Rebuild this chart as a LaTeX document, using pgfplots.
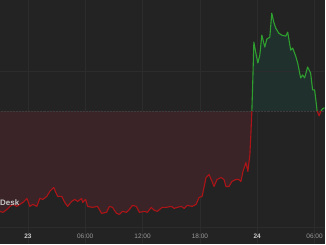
\documentclass[border=0pt]{standalone}
\usepackage{fontspec}
\setmainfont{Liberation Sans}
\usepackage{pgfplots}
\pgfplotsset{compat=1.18}
\definecolor{bg}{HTML}{232323}
\definecolor{gridc}{HTML}{2C2C2C}
\definecolor{basec}{HTML}{3C3C3C}
\definecolor{redline}{HTML}{AC1418}
\definecolor{greenline}{HTML}{2FA02F}
\definecolor{redfill}{HTML}{3A2427}
\definecolor{greenfill}{HTML}{1F302D}
\definecolor{tickc}{HTML}{9A9A9A}
\begin{document}
\begin{tikzpicture}
\begin{axis}[
  scale only axis, width=326pt, height=245pt,
  xmin=-2.917, xmax=31.042, ymin=0, ymax=245,
  axis background/.style={fill=bg},
  axis line style={draw=none},
  xtick={0,6,12,18,24,30},
  xticklabels={\textbf{\color{white!80!black}23},06:00,12:00,18:00,\textbf{\color{white!80!black}24},06:00},
  ytick=\empty,
  major tick length=0pt,
  xmajorgrids, grid style={gridc, line width=0.6pt},
  xticklabel style={anchor=center, yshift=8pt, font=\fontsize{6.5}{7}\selectfont, text=tickc},
]
% red fill (below baseline)
\addplot[fill=redfill, draw=none] coordinates {
(-2.917,134) (-2.917,33) (-2.604,32) (-2.188,35) (-1.875,38) (-1.563,40) (-1.146,38) (-0.833,40) (-0.521,42) (-0.104,46) (0.208,38) (0.521,40) (0.938,38) (1.25,46) (1.563,45) (1.979,48) (2.292,53) (2.5,55) (2.708,57) (2.917,52) (3.125,48) (3.542,48) (3.854,42) (4.167,38) (4.583,43) (4.896,45) (5.208,43) (5.625,46) (5.729,42) (6.042,45) (6.25,38) (6.771,37) (7.292,38) (7.708,31) (8.229,32) (8.542,38) (8.854,37) (9.271,31) (9.583,30) (9.896,33) (10.313,32) (10.625,35) (10.938,39) (11.354,38) (11.667,32) (12.188,33) (12.5,32) (12.917,37) (13.229,34) (13.542,33) (14.063,37) (14.479,37) (15.0,38) (15.313,36) (15.625,37) (16.042,38) (16.354,36) (16.667,39) (17.188,38) (17.604,40) (17.917,47) (18.229,48) (18.646,67) (18.958,70) (19.271,63) (19.479,58) (19.792,65) (20.208,67) (20.521,65) (20.729,58) (21.042,58) (21.354,63) (21.771,65) (22.083,65) (22.292,63) (22.5,73) (22.813,82) (23.021,73) (23.229,90) (23.333,110) (23.438,134)
};
\addplot[fill=redfill, draw=none] coordinates {(30.26,134) (30.469,129) (30.677,134)};
% green fill (above baseline)
\addplot[fill=greenfill, draw=none] coordinates {
(23.438,134) (23.542,167) (23.646,203) (23.854,192) (24.063,182) (24.271,190) (24.479,210) (24.792,198) (25.0,206) (25.313,208) (25.521,232) (25.729,223) (25.938,217) (26.25,212) (26.563,210) (26.979,209) (27.188,213) (27.5,195) (27.708,197) (28.021,189) (28.229,182) (28.542,167) (28.75,170) (28.958,167) (29.271,178) (29.583,172) (29.792,155) (30.0,155) (30.208,139) (30.26,134)
};
\addplot[fill=greenfill, draw=none] coordinates {(30.677,134) (30.833,136) (31.042,137) (31.042,134)};
% horizontal guide lines
\addplot[gridc, line width=0.6pt] coordinates {(-3,174) (32,174)};
\addplot[gridc, line width=0.6pt] coordinates {(-3,17) (32,17)};
\addplot[basec, densely dotted, line width=0.5pt] coordinates {(-3,134) (32,134)};
% lines
\addplot[redline, line width=1.1pt, line join=round] coordinates {
(-2.917,33) (-2.604,32) (-2.188,35) (-1.875,38) (-1.563,40) (-1.146,38) (-0.833,40) (-0.521,42) (-0.104,46) (0.208,38) (0.521,40) (0.938,38) (1.25,46) (1.563,45) (1.979,48) (2.292,53) (2.5,55) (2.708,57) (2.917,52) (3.125,48) (3.542,48) (3.854,42) (4.167,38) (4.583,43) (4.896,45) (5.208,43) (5.625,46) (5.729,42) (6.042,45) (6.25,38) (6.771,37) (7.292,38) (7.708,31) (8.229,32) (8.542,38) (8.854,37) (9.271,31) (9.583,30) (9.896,33) (10.313,32) (10.625,35) (10.938,39) (11.354,38) (11.667,32) (12.188,33) (12.5,32) (12.917,37) (13.229,34) (13.542,33) (14.063,37) (14.479,37) (15.0,38) (15.313,36) (15.625,37) (16.042,38) (16.354,36) (16.667,39) (17.188,38) (17.604,40) (17.917,47) (18.229,48) (18.646,67) (18.958,70) (19.271,63) (19.479,58) (19.792,65) (20.208,67) (20.521,65) (20.729,58) (21.042,58) (21.354,63) (21.771,65) (22.083,65) (22.292,63) (22.5,73) (22.813,82) (23.021,73) (23.229,90) (23.333,110) (23.438,134)
};
\addplot[greenline, line width=1.1pt, line join=round] coordinates {
(23.438,134) (23.542,167) (23.646,203) (23.854,192) (24.063,182) (24.271,190) (24.479,210) (24.792,198) (25.0,206) (25.313,208) (25.521,232) (25.729,223) (25.938,217) (26.25,212) (26.563,210) (26.979,209) (27.188,213) (27.5,195) (27.708,197) (28.021,189) (28.229,182) (28.542,167) (28.75,170) (28.958,167) (29.271,178) (29.583,172) (29.792,155) (30.0,155) (30.208,139) (30.26,134)
};
\addplot[redline, line width=1.1pt, line join=round] coordinates {(30.26,134) (30.469,129) (30.677,134)};
\addplot[greenline, line width=1.1pt, line join=round] coordinates {(30.677,134) (30.833,136) (31.042,137)};
\node[anchor=west, inner sep=0pt, text=white!78!black, font=\bfseries\fontsize{8}{9}\selectfont] at (axis cs:-2.917,42) {Desk};
\end{axis}
\end{tikzpicture}
\end{document}
